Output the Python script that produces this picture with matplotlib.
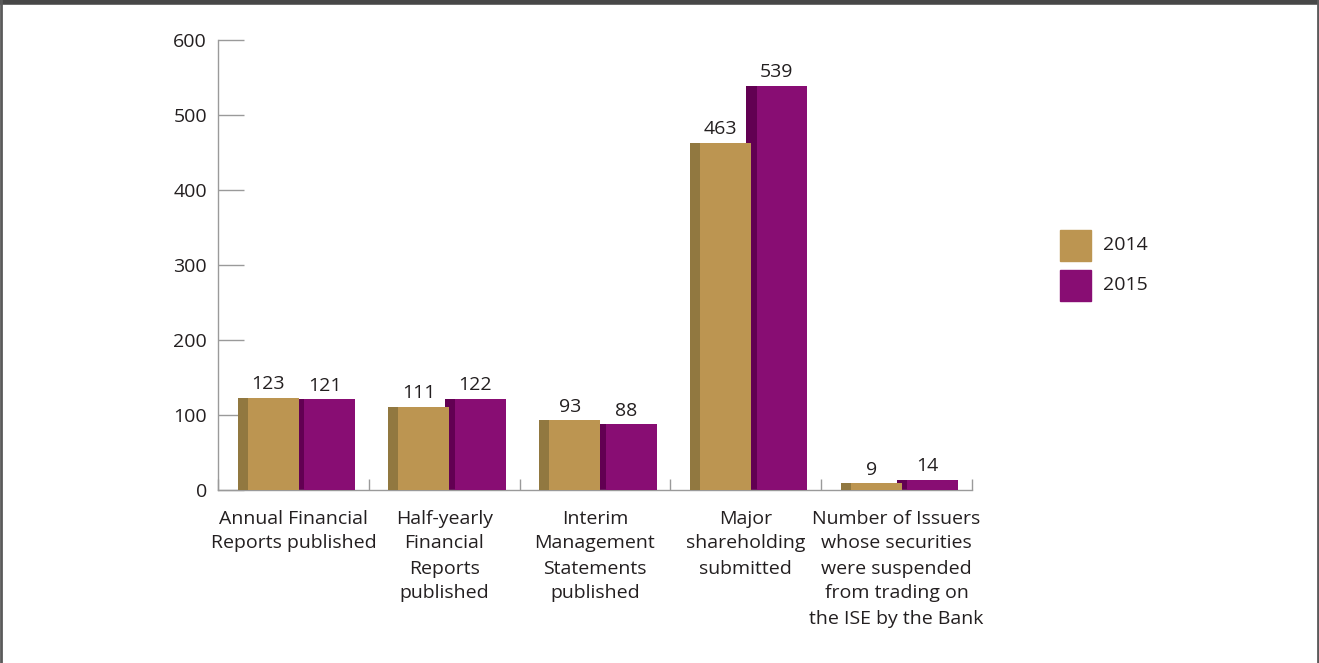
import matplotlib
matplotlib.use("Agg")
import matplotlib.pyplot as plt
from matplotlib.patches import Rectangle
import numpy as np

categories = [
    "Annual Financial\nReports published",
    "Half-yearly\nFinancial\nReports\npublished",
    "Interim\nManagement\nStatements\npublished",
    "Major\nshareholding\nsubmitted",
    "Number of Issuers\nwhose securities\nwere suspended\nfrom trading on\nthe ISE by the Bank",
]
series_names = ["2014", "2015"]
values_2014 = [123, 111, 93, 463, 9]
values_2015 = [121, 122, 88, 539, 14]
y_ticks = [0, 100, 200, 300, 400, 500, 600]

front_colors = ["#BC9551", "#880D73"]
side_colors = ["#917840", "#620052"]
text_color = "#231F20"
axis_color = "#9A9A9A"
fs = 14

plt.rcParams["font.family"] = ["Open Sans", "DejaVu Sans"]

fig = plt.figure(figsize=(13.19, 6.63), dpi=100)
ax = fig.add_axes([218 / 1319, 173 / 663, (972 - 218) / 1319, 450 / 663])

x = np.arange(len(categories))
side_w = 0.066
front_w = 0.338
# (side start, front start) offsets relative to the category centre
offsets = [(-0.37, -0.304), (0.003, 0.071)]

series = [values_2014, values_2015]
# draw 2015 first so the 2014 front face overlaps its side face
for i in [1, 0]:
    vals = series[i]
    s_off, f_off = offsets[i]
    ax.bar(x + s_off, vals, width=side_w + 0.01, align="edge",
           color=side_colors[i], linewidth=0, zorder=2 + (1 - i) * 2)
    ax.bar(x + f_off, vals, width=front_w, align="edge",
           color=front_colors[i], linewidth=0, zorder=3 + (1 - i) * 2)
    for xi, v in zip(x, vals):
        cx = xi + (s_off + f_off + front_w) / 2
        ax.text(cx, v + 6, str(v), ha="center", va="bottom",
                fontsize=fs, color=text_color, zorder=10)

ax.set_xlim(-0.5, len(categories) - 0.5)
ax.set_ylim(0, 600)
ax.set_yticks(y_ticks)
ax.set_yticklabels([str(t) for t in y_ticks], fontsize=fs, color=text_color)
ax.set_xticks(np.arange(len(categories) + 1) - 0.5)
ax.set_xticklabels([])
ax.tick_params(axis="y", direction="in", length=19, width=1, color=axis_color, pad=8)
ax.tick_params(axis="x", direction="in", length=8, width=1, color=axis_color)

for side in ["top", "right"]:
    ax.spines[side].set_visible(False)
for side in ["left", "bottom"]:
    ax.spines[side].set_color(axis_color)
    ax.spines[side].set_linewidth(1)

for xi, label in zip(x, categories):
    ax.text(xi, -26, label, ha="center", va="top", fontsize=fs,
            color=text_color, linespacing=1.5, transform=ax.transData)

# legend
for j, name in enumerate(series_names):
    y0 = 663 - 261 - j * 40
    fig.patches.append(Rectangle((1060 / 1319, y0 / 663), 31 / 1319, 31 / 663,
                                 transform=fig.transFigure, color=front_colors[j]))
    fig.text(1103 / 1319, (y0 + 15.5) / 663, name, ha="left", va="center",
             fontsize=fs, color=text_color)

# frame around the figure
fig.add_artist(plt.Line2D([0, 1], [1 - 2 / 663, 1 - 2 / 663], transform=fig.transFigure,
                          color="#474747", linewidth=4))
fig.add_artist(plt.Line2D([1 / 1319, 1 / 1319], [0, 1], transform=fig.transFigure,
                          color="#5A5A5A", linewidth=2))
fig.add_artist(plt.Line2D([1 - 1 / 1319, 1 - 1 / 1319], [0, 1], transform=fig.transFigure,
                          color="#5A5A5A", linewidth=2))

fig.savefig("out.png", dpi=100)
